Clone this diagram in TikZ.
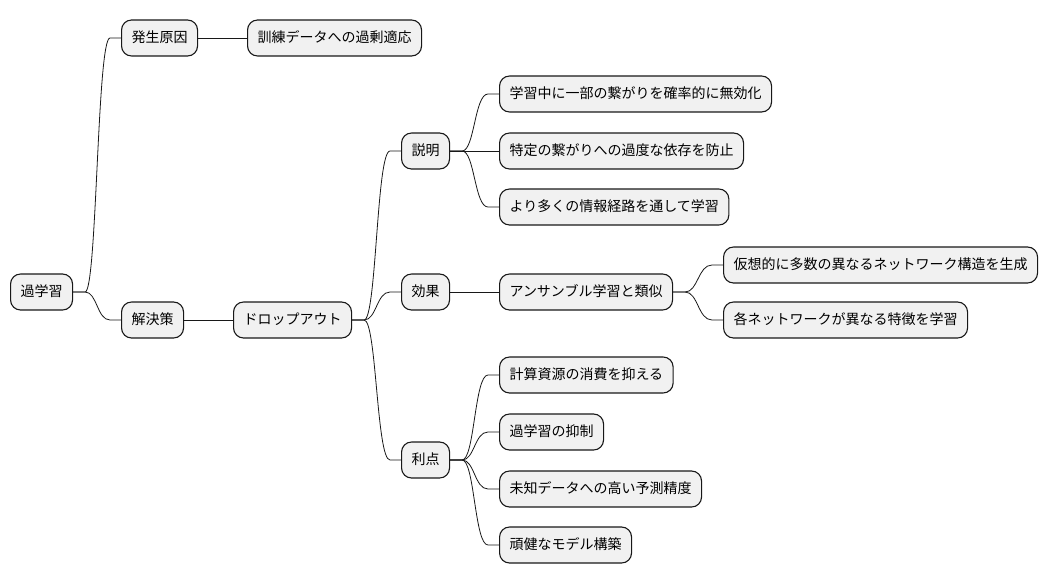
\documentclass[tikz,border=0pt]{standalone}
\usepackage{fontspec}
\newfontfamily\jp{Noto Sans CJK JP}
\usetikzlibrary{calc}
\definecolor{boxfill}{HTML}{F1F1F1}
\definecolor{edge}{HTML}{181818}
\tikzset{
  mbox/.style={draw=edge, line width=1.1pt, rounded corners=10pt, fill=boxfill,
    inner xsep=10pt, inner ysep=0pt, minimum height=36pt, anchor=west,
    font=\jp\fontsize{14}{16}\selectfont, text height=11pt, text depth=2pt},
  conn/.style={draw=edge, line width=0.8pt}
}
\newcommand{\mconn}[2]{%
  \draw[conn] let \p1=(#1.east), \p2=(#2.west) in
    (\p1) -- (\x1+12pt,\y1) .. controls ({(\x1+\x2)/2},\y1) and ({(\x1+\x2)/2},\y2) .. (\x2-11pt,\y2) -- (\p2);}
\begin{document}
\begin{tikzpicture}[x=1pt,y=-1pt]
\useasboundingbox (0,0) rectangle (1048,583);
\node[mbox] (root) at (10,292) {過学習};
\node[mbox] (cause) at (121,38) {発生原因};
\node[mbox] (causeA) at (247,38) {訓練データへの過剰適応};
\node[mbox] (sol) at (121,320) {解決策};
\node[mbox] (drop) at (233,320) {ドロップアウト};
\node[mbox] (expl) at (401,151) {説明};
\node[mbox] (e1) at (499,94) {学習中に一部の繋がりを確率的に無効化};
\node[mbox] (e2) at (499,151) {特定の繋がりへの過度な依存を防止};
\node[mbox] (e3) at (499,207) {より多くの情報経路を通して学習};
\node[mbox] (eff) at (401,292) {効果};
\node[mbox] (ens) at (499,292) {アンサンブル学習と類似};
\node[mbox] (n1) at (723,265) {仮想的に多数の異なるネットワーク構造を生成};
\node[mbox] (n2) at (723,320) {各ネットワークが異なる特徴を学習};
\node[mbox] (adv) at (401,460) {利点};
\node[mbox] (a1) at (499,375) {計算資源の消費を抑える};
\node[mbox] (a2) at (499,432) {過学習の抑制};
\node[mbox] (a3) at (499,489) {未知データへの高い予測精度};
\node[mbox] (a4) at (499,545) {頑健なモデル構築};
\mconn{root}{cause}
\mconn{root}{sol}
\draw[conn] (cause.east) -- (causeA.west);
\draw[conn] (sol.east) -- (drop.west);
\mconn{drop}{expl}
\mconn{drop}{eff}
\mconn{drop}{adv}
\mconn{expl}{e1}
\draw[conn] (expl.east) -- (e2.west);
\mconn{expl}{e3}
\draw[conn] (eff.east) -- (ens.west);
\mconn{ens}{n1}
\mconn{ens}{n2}
\mconn{adv}{a1}
\mconn{adv}{a2}
\mconn{adv}{a3}
\mconn{adv}{a4}
\end{tikzpicture}
\end{document}
